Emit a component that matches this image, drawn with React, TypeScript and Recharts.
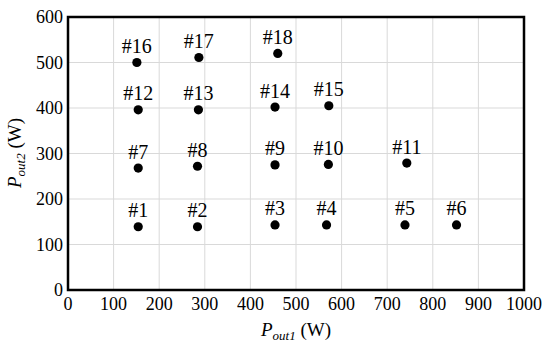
import {
  ScatterChart,
  Scatter,
  XAxis,
  YAxis,
  ZAxis,
  CartesianGrid,
  ReferenceArea,
  LabelList,
} from 'recharts'

const caseNames = ['#1', '#2', '#3', '#4', '#5', '#6', '#7', '#8', '#9', '#10', '#11', '#12', '#13', '#14', '#15', '#16', '#17', '#18']
const pOut1 = [154, 284, 454, 567, 739, 852, 154, 284, 454, 571, 743, 154, 286, 454, 572, 151, 287, 460]
const pOut2 = [139, 139, 143, 143, 143, 143, 268, 272, 275, 276, 279, 396, 396, 402, 405, 500, 511, 520]
const xTicks = [0, 100, 200, 300, 400, 500, 600, 700, 800, 900, 1000]
const yTicks = [0, 100, 200, 300, 400, 500, 600]

const SERIF = 'Liberation Serif'

const data = caseNames.map((name, i) => ({ name, x: pOut1[i], y: pOut2[i] }))

function XTitle(props: any) {
  const vb = props.viewBox || {}
  const cx = vb.x + vb.width / 2
  return (
    <text x={cx} y={336} textAnchor="middle" style={{ fontFamily: SERIF }} fontSize={19} fill="#000">
      <tspan fontStyle="italic">P</tspan>
      <tspan fontStyle="italic" fontSize={13} dy={4}>out1</tspan>
      <tspan dy={-4}> (W)</tspan>
    </text>
  )
}

function YTitle() {
  return (
    <text
      x={0}
      y={0}
      transform="translate(21, 153) rotate(-90)"
      textAnchor="middle"
      style={{ fontFamily: SERIF }}
      fontSize={19}
      fill="#000"
    >
      <tspan fontStyle="italic">P</tspan>
      <tspan fontStyle="italic" fontSize={13} dy={4}>out2</tspan>
      <tspan dy={-4}> (W)</tspan>
    </text>
  )
}

function XTick(p: any) {
  return (
    <g transform={`translate(${p.x},${p.y})`}>
      <text x={0} y={13} textAnchor="middle" style={{ fontFamily: SERIF, fontSize: 18 }} fill="#000">
        {String(p.payload.value)}
      </text>
    </g>
  )
}

function YTick(p: any) {
  return (
    <g transform={`translate(${p.x},${p.y})`}>
      <text x={0} y={6} textAnchor="end" style={{ fontFamily: SERIF, fontSize: 18 }} fill="#000">
        {String(p.payload.value)}
      </text>
    </g>
  )
}

function PointLabel(p: any) {
  return (
    <text
      x={Number(p.x) + Number(p.width) / 2}
      y={Number(p.y) - 5}
      textAnchor="middle"
      style={{ fontFamily: SERIF, fontSize: 20 }}
      fill="#000"
    >
      {String(p.value)}
    </text>
  )
}

const Dot = (p: any) => <circle cx={p.cx} cy={p.cy} r={4.6} fill="#000" />

export default function App() {
  return (
    <div style={{ position: 'fixed', left: 0, top: 0, width: 550, height: 353, background: '#fff', fontFamily: SERIF }}>
      <ScatterChart width={550} height={353} margin={{ top: 17, right: 26, left: 0, bottom: 0 }} style={{ fontFamily: SERIF }}>
        <CartesianGrid stroke="#d9d9d9" strokeWidth={1} />
        <XAxis
          type="number"
          dataKey="x"
          domain={[0, 1000]}
          ticks={xTicks}
          height={63}
          axisLine={false}
          tickLine={false}
          tickSize={0}
          tickMargin={7}
          tick={<XTick />}
          label={{ content: (p: any) => <XTitle {...p} /> }}
        />
        <YAxis
          type="number"
          dataKey="y"
          domain={[0, 600]}
          ticks={yTicks}
          width={68}
          axisLine={false}
          tickLine={false}
          tickSize={0}
          tickMargin={5}
          tick={<YTick />}
          label={{ content: () => <YTitle /> }}
        />
        <ZAxis range={[64, 64]} />
        <ReferenceArea x1={0} x2={1000} y1={0} y2={600} fill="none" stroke="#000" strokeWidth={2.5} fillOpacity={0} />
        <Scatter data={data} shape={Dot} isAnimationActive={false}>
          <LabelList dataKey="name" content={<PointLabel />} />
        </Scatter>
      </ScatterChart>
    </div>
  )
}
